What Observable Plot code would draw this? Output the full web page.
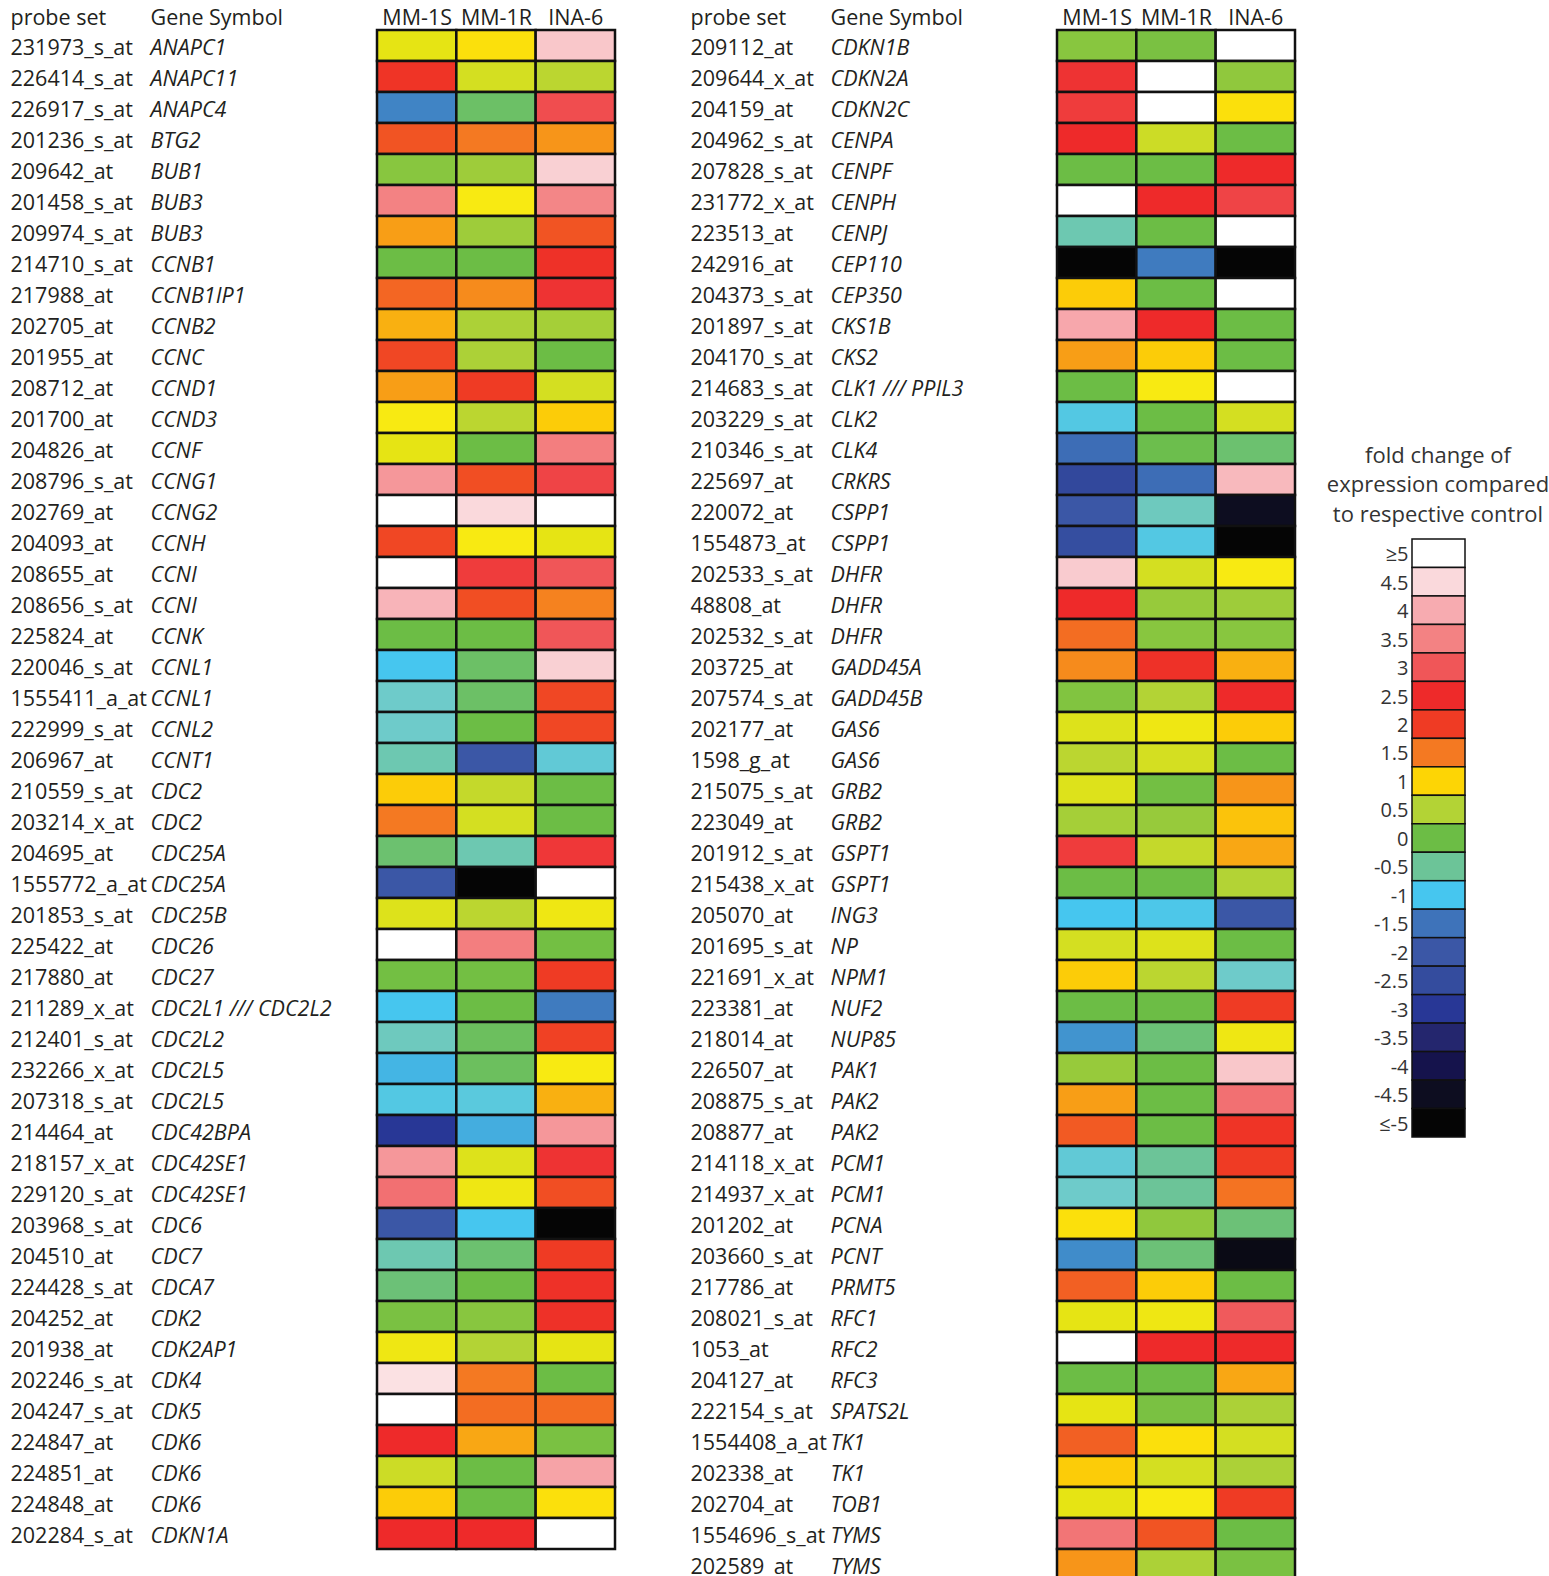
<!DOCTYPE html>
<html><head><meta charset="utf-8">
<script src="https://cdn.jsdelivr.net/npm/d3@7"></script>
<script src="https://cdn.jsdelivr.net/npm/@observablehq/plot@0.6"></script>
<style>
html,body{margin:0;padding:0;background:#fff;overflow:hidden;}
#wrap{position:relative;width:1549px;height:1576px;overflow:hidden;}
.panel{position:absolute;top:0;width:680px;height:1580px;}
.panel svg{max-width:none !important;width:680px;height:1580px;}
#legendTitle{position:absolute;left:1318px;width:240px;top:440px;text-align:center;font-family:"Open Sans";font-size:22px;line-height:29.3px;color:#333;white-space:nowrap;}
#legend{position:absolute;left:1300px;top:520px;width:200px;height:640px;}
#legend svg{max-width:none !important;width:200px;height:640px;}
</style></head><body>
<div id="wrap">
<div id="left" class="panel" style="left:0"></div>
<div id="right" class="panel" style="left:680px"></div>
<div id="legendTitle">fold change of<br>expression compared<br>to respective control</div>
<div id="legend"></div>
</div>
<script>
const samples = ["MM-1S","MM-1R","INA-6"];

const leftProbeSets = ["231973_s_at","226414_s_at","226917_s_at","201236_s_at","209642_at","201458_s_at","209974_s_at","214710_s_at","217988_at","202705_at","201955_at","208712_at","201700_at","204826_at","208796_s_at","202769_at","204093_at","208655_at","208656_s_at","225824_at","220046_s_at","1555411_a_at","222999_s_at","206967_at","210559_s_at","203214_x_at","204695_at","1555772_a_at","201853_s_at","225422_at","217880_at","211289_x_at","212401_s_at","232266_x_at","207318_s_at","214464_at","218157_x_at","229120_s_at","203968_s_at","204510_at","224428_s_at","204252_at","201938_at","202246_s_at","204247_s_at","224847_at","224851_at","224848_at","202284_s_at"];
const leftGenes = ["ANAPC1","ANAPC11","ANAPC4","BTG2","BUB1","BUB3","BUB3","CCNB1","CCNB1IP1","CCNB2","CCNC","CCND1","CCND3","CCNF","CCNG1","CCNG2","CCNH","CCNI","CCNI","CCNK","CCNL1","CCNL1","CCNL2","CCNT1","CDC2","CDC2","CDC25A","CDC25A","CDC25B","CDC26","CDC27","CDC2L1 /// CDC2L2","CDC2L2","CDC2L5","CDC2L5","CDC42BPA","CDC42SE1","CDC42SE1","CDC6","CDC7","CDCA7","CDK2","CDK2AP1","CDK4","CDK5","CDK6","CDK6","CDK6","CDKN1A"];
const leftMM1S = [0.8,2.2,-1.4,1.8,0.2,3.5,1.3,0,1.65,1.2,1.9,1.3,0.9,0.8,3.75,5,1.9,5,4.1,0,-1,-0.7,-0.7,-0.6,1.05,1.5,-0.25,-2,0.75,5,0.05,-1,-0.65,-1.1,-0.9,-3,3.75,3.3,-2,-0.6,-0.3,0.1,0.85,4.6,5,2.5,0.65,1.05,2.5];
const leftMM1R = [0.95,0.7,-0.2,1.5,0.35,0.9,0.35,0,1.4,0.45,0.45,2,0.55,0,1.85,4.5,0.9,2.7,1.85,0,-0.2,-0.2,0,-2,0.6,0.7,-0.6,-5,0.55,3.45,0.05,0,-0.15,-0.15,-0.85,-1.15,0.75,0.85,-1,-0.25,0,0.2,0.5,1.5,1.6,1.25,0,0,2.5];
const leftINA6 = [4.3,0.55,2.9,1.35,4.4,3.55,1.8,2.3,2.6,0.4,0,0.7,1.05,3.45,2.8,5,0.8,3,1.45,3,4.4,1.9,1.9,-0.8,0,0,2.65,5,0.85,0.05,2,-1.45,1.95,0.9,1.2,3.75,2.6,1.85,-5,2,2.3,2.3,0.8,0,1.6,0.1,3.9,0.95,5];

const rightProbeSets = ["209112_at","209644_x_at","204159_at","204962_s_at","207828_s_at","231772_x_at","223513_at","242916_at","204373_s_at","201897_s_at","204170_s_at","214683_s_at","203229_s_at","210346_s_at","225697_at","220072_at","1554873_at","202533_s_at","48808_at","202532_s_at","203725_at","207574_s_at","202177_at","1598_g_at","215075_s_at","223049_at","201912_s_at","215438_x_at","205070_at","201695_s_at","221691_x_at","223381_at","218014_at","226507_at","208875_s_at","208877_at","214118_x_at","214937_x_at","201202_at","203660_s_at","217786_at","208021_s_at","1053_at","204127_at","222154_s_at","1554408_a_at","202338_at","202704_at","1554696_s_at","202589_at"];
const rightGenes = ["CDKN1B","CDKN2A","CDKN2C","CENPA","CENPF","CENPH","CENPJ","CEP110","CEP350","CKS1B","CKS2","CLK1 /// PPIL3","CLK2","CLK4","CRKRS","CSPP1","CSPP1","DHFR","DHFR","DHFR","GADD45A","GADD45B","GAS6","GAS6","GRB2","GRB2","GSPT1","GSPT1","ING3","NP","NPM1","NUF2","NUP85","PAK1","PAK2","PAK2","PCM1","PCM1","PCNA","PCNT","PRMT5","RFC1","RFC2","RFC3","SPATS2L","TK1","TK1","TOB1","TYMS","TYMS"];
const rightMM1S = [0.2,2.6,2.7,2.5,0,5,-0.6,-5,1.05,3.95,1.3,0,-0.9,-1.6,-2.6,-2,-2.4,4.35,2.5,1.6,1.4,0.15,0.75,0.55,0.75,0.4,2.7,0,-1,0.7,1.05,0,-1.3,0.3,1.3,1.75,-0.8,-0.7,0.95,-1.35,1.7,0.8,5,0,0.8,1.7,1.05,0.8,3.35,1.35];
const rightMM1R = [0.1,5,5,0.65,0,2.5,0,-1.45,0,2.5,1.05,0.9,0,-0.05,-1.6,-0.65,-0.9,0.7,0.3,0.2,2.3,0.5,0.85,0.7,0.05,0.3,0.6,0,-0.95,0.75,0.55,0,-0.3,0,0,0,-0.5,-0.5,0.25,-0.3,1.05,0.85,2.5,0,0.1,0.95,0.7,0.9,1.8,0.45];
const rightINA6 = [5,0.25,0.95,0,2.5,2.8,5,-5,5,0,0,5,0.7,-0.25,4.15,-4.5,-5,0.9,0.35,0.2,1.2,2.5,1.05,0,1.35,1.1,1.25,0.5,-2,0,-0.7,2,0.85,4.3,3.3,2.2,2,1.55,-0.3,-4.7,0,3.05,2.5,1.25,0.45,0.7,0.45,2,0,0.1];

const legendValues = [5,4.5,4,3.5,3,2.5,2,1.5,1,0.5,0,-0.5,-1,-1.5,-2,-2.5,-3,-3.5,-4,-4.5,-5];
const legendLabels = ["≥5","4.5","4","3.5","3","2.5","2","1.5","1","0.5","0","-0.5","-1","-1.5","-2","-2.5","-3","-3.5","-4","-4.5","≤-5"];

const colorStops = [-5,-4.5,-4,-3.5,-3,-2.5,-2,-1.5,-1,-0.7,-0.5,0,0.5,0.7,0.8,0.9,1,1.5,2,2.5,3,3.5,4,4.5,5];
const colorRange = ["#050505","#0d0d20","#15134c","#24266e","#283796","#344c9e","#3b57a6","#3e73ba","#46c6ef","#6ecbca","#6cc498","#6cbd45","#b3d335","#d4df21","#e6e414","#f8ea12","#fdd505","#f47922","#ef3b24","#ee2a2a","#f05658","#f38283","#f7abb0","#fad9dc","#ffffff"];
const colorOpts = {type: "linear", domain: colorStops, range: colorRange, interpolate: "rgb", clamp: true};

function panel(probes, genes, cols) {
  const rows = probes.map((p, i) => ({i, probe: p, gene: genes[i]}));
  const cells = [];
  rows.forEach(r => samples.forEach((s, j) => cells.push({i: r.i, sample: s, value: cols[j][r.i]})));
  return Plot.plot({
    width: 680, height: 1580,
    marginLeft: 377, marginRight: 65, marginTop: 30, marginBottom: 0,
    x: {type: "band", domain: samples, padding: 0, round: false, axis: null},
    y: {type: "band", domain: d3.range(50), padding: 0, round: false, axis: null},
    color: colorOpts,
    style: {fontFamily: "Open Sans", fontSize: "21.5px", color: "#231f20", background: "transparent", overflow: "visible"},
    marks: [
      Plot.cell(cells, {x: "sample", y: "i", fill: "value", stroke: "#111", strokeWidth: 2.5, inset: 0}),
      Plot.text(rows, {y: "i", text: "probe", frameAnchor: "left", dx: -367, dy: 2, textAnchor: "start"}),
      Plot.text(rows, {y: "i", text: "gene", frameAnchor: "left", dx: -227, dy: 2, textAnchor: "start", fontStyle: "italic"}),
      Plot.text(samples, {x: d => d, text: d => d, frameAnchor: "top", lineAnchor: "middle", dy: -12}),
      Plot.text(["probe set"], {text: d => d, frameAnchor: "top-left", lineAnchor: "middle", dx: -367, dy: -12, textAnchor: "start"}),
      Plot.text(["Gene Symbol"], {text: d => d, frameAnchor: "top-left", lineAnchor: "middle", dx: -227, dy: -12, textAnchor: "start"})
    ]
  });
}

document.getElementById("left").append(panel(leftProbeSets, leftGenes, [leftMM1S, leftMM1R, leftINA6]));
document.getElementById("right").append(panel(rightProbeSets, rightGenes, [rightMM1S, rightMM1R, rightINA6]));

const legendItems = legendValues.map((v, i) => ({value: v, label: legendLabels[i]}));
document.getElementById("legend").append(Plot.plot({
  width: 200, height: 640,
  marginLeft: 112, marginRight: 35, marginTop: 19, marginBottom: 23,
  x: {type: "band", domain: ["scale"], padding: 0, round: false, axis: null},
  y: {type: "band", domain: legendLabels, padding: 0, round: false, axis: null},
  color: colorOpts,
  style: {fontFamily: "Open Sans", fontSize: "20px", color: "#333", background: "transparent"},
  marks: [
    Plot.cell(legendItems, {x: () => "scale", y: "label", fill: "value", stroke: "#111", strokeWidth: 1.5, inset: 0}),
    Plot.text(legendItems, {y: "label", text: "label", frameAnchor: "left", dx: -4, dy: 1, textAnchor: "end"})
  ]
}));
</script>
</body></html>
